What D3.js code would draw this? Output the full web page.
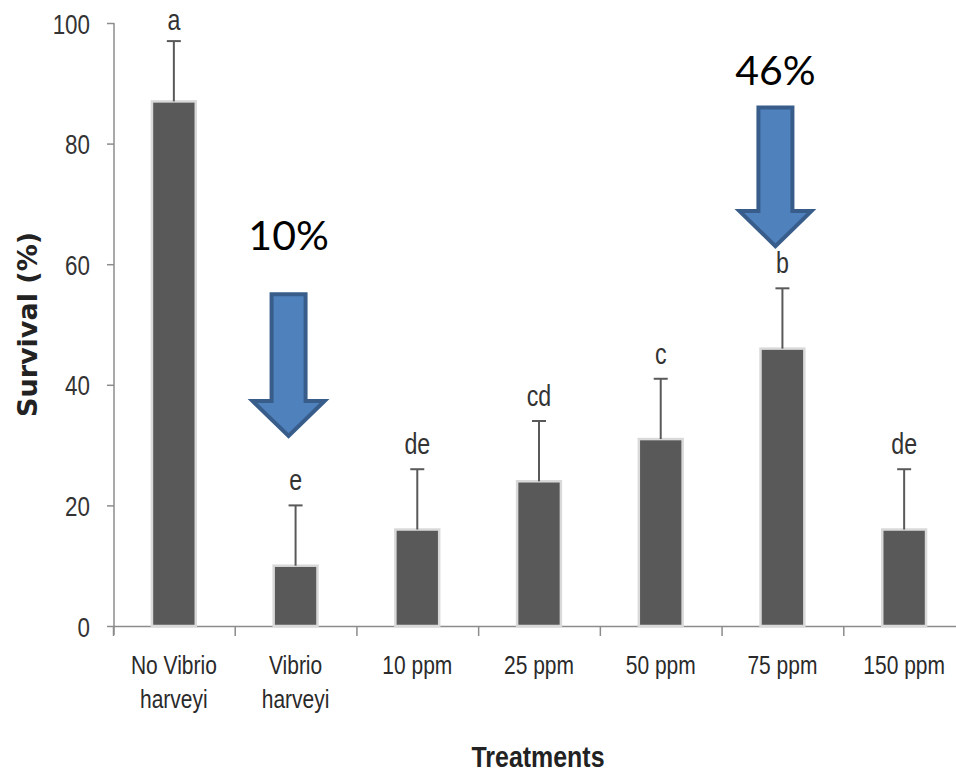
<!DOCTYPE html>
<html>
<head>
<meta charset="utf-8">
<script src="https://cdn.jsdelivr.net/npm/d3@7"></script>
<style>
  body { margin: 0; background: #fff; }
  text { font-family: "Liberation Sans", Arial, sans-serif; fill: #333; }
</style>
</head>
<body>
<svg id="chart"></svg>
<script>
const categories = ["No Vibrio harveyi", "Vibrio harveyi", "10 ppm", "25 ppm", "50 ppm", "75 ppm", "150 ppm"];
const tickLines = [["No Vibrio", "harveyi"], ["Vibrio", "harveyi"], ["10 ppm"], ["25 ppm"], ["50 ppm"], ["75 ppm"], ["150 ppm"]];
const survival = [87, 10, 16, 24, 31, 46, 16];
const errors = [10, 10, 10, 10, 10, 10, 10];
const letters = ["a", "e", "de", "cd", "c", "b", "de"];
const yTicks = [0, 20, 40, 60, 80, 100];
// arrow annotations: category, top of shaft, tip, label position (all in % units)
const arrowCats = ["Vibrio harveyi", "75 ppm"];
const arrowTop = [55, 86];
const arrowTip = [31.5, 63];
const arrowText = ["10%", "46%"];
const arrowTextAt = [62.4, 89.7];

const dimensions = { width: 956, height: 774 };
const narrow = 0.8; // squeeze text horizontally, the original font is condensed

const data = categories.map((c, i) => ({ cat: c, value: survival[i], err: errors[i], letter: letters[i], lines: tickLines[i] }));

const svg = d3.select("#chart")
    .attr("width", dimensions.width)
    .attr("height", dimensions.height);

const xScale = d3.scaleBand().domain(categories).range([113, 965]);
const yScale = d3.scaleLinear().domain([0, 100]).range([626, 23]);
const barW = xScale.bandwidth() * 0.36;
const cx = d => xScale(d) + xScale.bandwidth() / 2;

// y axis
const yAxis = svg.append("g")
    .attr("transform", "translate(114,0)")
    .call(d3.axisLeft(yScale).tickValues(yTicks).tickSize(7).tickSizeOuter(0).tickPadding(17));
yAxis.select(".domain").remove();
yAxis.selectAll(".tick line").attr("stroke", "#8c8c8c").attr("stroke-width", 1.5);
yAxis.selectAll(".tick text")
    .attr("x", -24 / narrow)
    .attr("transform", `scale(${narrow},1)`)
    .attr("dy", "0.36em")
    .style("font-size", "28px")
    .style("fill", "#333");
svg.append("line")
    .attr("x1", 114).attr("x2", 114)
    .attr("y1", yScale(100)).attr("y2", yScale(0) + 9)
    .attr("stroke", "#8c8c8c").attr("stroke-width", 1.5);

// x axis (ticks at category boundaries)
const xb = d3.scaleLinear().domain([0, categories.length]).range(xScale.range());
const xAxis = svg.append("g")
    .attr("transform", `translate(0,${yScale(0)})`)
    .call(d3.axisBottom(xb).ticks(categories.length).tickSize(10).tickSizeOuter(0).tickFormat(""));
xAxis.select(".domain").attr("stroke", "#8c8c8c").attr("stroke-width", 1.5);
xAxis.selectAll(".tick line").attr("stroke", "#8c8c8c").attr("stroke-width", 1.5);

// bars
svg.selectAll(".bar")
    .data(data)
    .enter()
    .append("rect")
    .attr("class", "bar")
    .attr("x", d => cx(d.cat) - barW / 2)
    .attr("y", d => yScale(d.value))
    .attr("width", barW)
    .attr("height", d => yScale(0) - yScale(d.value))
    .attr("fill", "#595959")
    .attr("stroke", "#d9d9d9")
    .attr("stroke-width", 2.5);

// error bars
const eb = svg.selectAll(".err").data(data).enter().append("g").attr("class", "err")
    .attr("stroke", "#595959").attr("stroke-width", 2);
eb.append("line")
    .attr("x1", d => cx(d.cat)).attr("x2", d => cx(d.cat))
    .attr("y1", d => yScale(d.value)).attr("y2", d => yScale(d.value + d.err));
eb.append("line")
    .attr("x1", d => cx(d.cat) - 7).attr("x2", d => cx(d.cat) + 7)
    .attr("y1", d => yScale(d.value + d.err)).attr("y2", d => yScale(d.value + d.err));

// significance letters
svg.selectAll(".letter").data(data).enter().append("text")
    .attr("class", "letter")
    .attr("transform", d => `translate(${cx(d.cat)},${Math.max(yScale(d.value + d.err) - 15, 30)}) scale(${narrow},1)`)
    .attr("text-anchor", "middle")
    .style("font-size", "29px")
    .text(d => d.letter);

// category labels
const lab = svg.selectAll(".catlab").data(data).enter().append("text")
    .attr("class", "catlab")
    .attr("transform", d => `translate(${cx(d.cat)},0) scale(0.84,1)`)
    .attr("text-anchor", "middle")
    .style("font-size", "25px")
    .style("fill", "#2a2a2a");
lab.selectAll("tspan").data(d => d.lines).enter().append("tspan")
    .attr("x", 0)
    .attr("y", (d, i) => 674 + i * 34)
    .text(d => d);

// axis titles
svg.append("text")
    .attr("transform", `translate(37,${(yScale(0) + yScale(100)) / 2}) rotate(-90)`)
    .attr("text-anchor", "middle")
    .style("font-family", "'DejaVu Sans', sans-serif")
    .style("font-weight", "bold")
    .style("font-size", "27px")
    .style("fill", "#222")
    .text("Survival (%)");

svg.append("text")
    .attr("transform", "translate(538,767) scale(0.86,1)")
    .attr("text-anchor", "middle")
    .style("font-weight", "bold")
    .style("font-size", "29px")
    .style("fill", "#222")
    .text("Treatments");

// arrows
arrowCats.forEach((c, i) => {
    const x = cx(c) - 7;
    const top = yScale(arrowTop[i]);
    const tip = yScale(arrowTip[i]);
    const headBase = tip - 35;
    const sw = 17, hw = 36;
    svg.append("path")
        .attr("d", `M${x - sw},${top} L${x + sw},${top} L${x + sw},${headBase} L${x + hw},${headBase} L${x},${tip} L${x - hw},${headBase} L${x - sw},${headBase} Z`)
        .attr("fill", "#4f81bd")
        .attr("stroke", "#385d8a")
        .attr("stroke-width", 4)
        .attr("stroke-linejoin", "miter");
    svg.append("text")
        .attr("x", x)
        .attr("y", yScale(arrowTextAt[i]))
        .attr("text-anchor", "middle")
        .style("font-family", "Lato, sans-serif")
        .style("font-size", "41px")
        .style("fill", "#000")
        .text(arrowText[i]);
});
</script>
</body>
</html>
